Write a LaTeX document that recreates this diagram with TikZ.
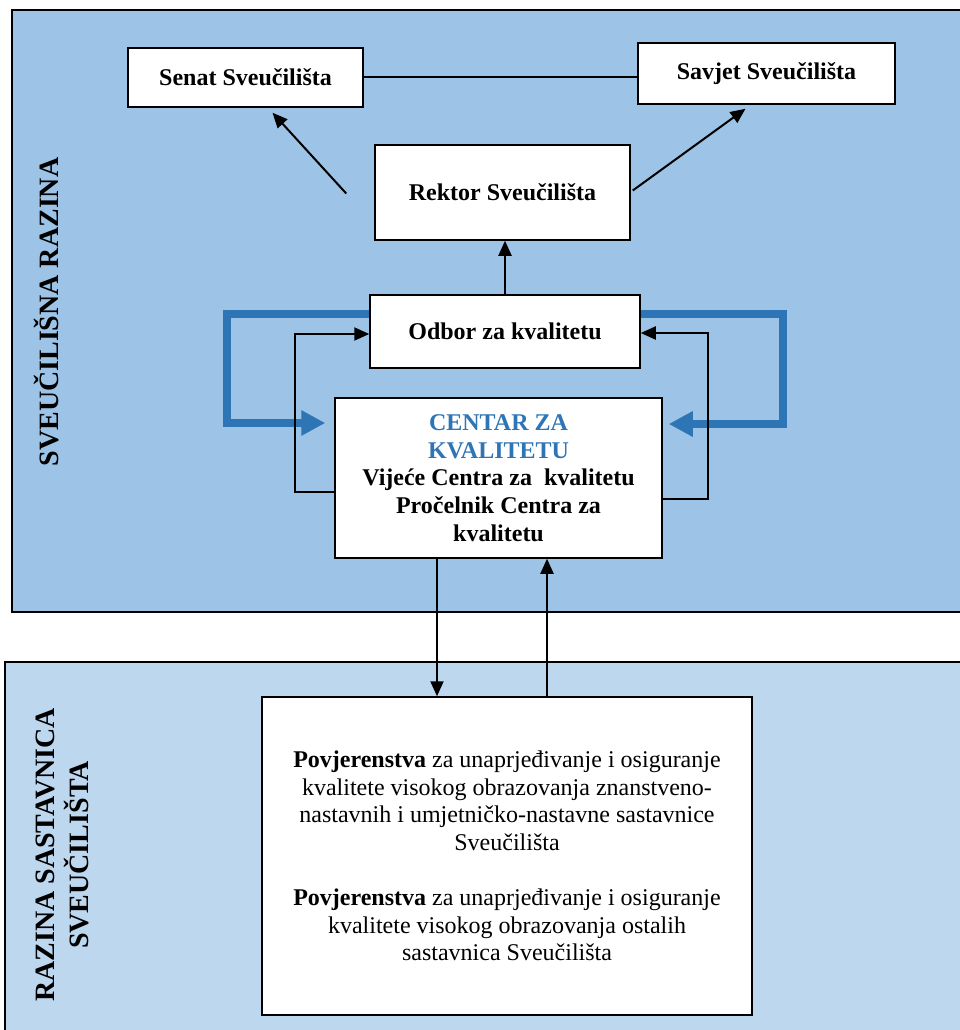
\documentclass[tikz,border=0pt]{standalone}
\usepackage{fontspec}
\setmainfont{Liberation Serif}
\usetikzlibrary{arrows.meta,calc}
\definecolor{gornja}{HTML}{9DC3E6}
\definecolor{donja}{HTML}{BDD7EE}
\definecolor{plava}{HTML}{2E75B6}
\tikzset{
  kutija/.style={draw, line width=1.5pt, fill=white, align=center, inner sep=0pt,
    font=\fontsize{24}{27.6}\selectfont\bfseries},
  strelica/.style={line width=2pt, -{Triangle[length=15pt,width=13pt]}},
  plavastr/.style={plava, line width=8pt, -{Triangle[length=24pt,width=24pt]}},
  razina/.style={rotate=90, align=center, font=\fontsize{28}{34}\selectfont\bfseries}
}
\begin{document}
\begin{tikzpicture}[x=1pt,y=-1pt]
\useasboundingbox (0,0) rectangle (960,1030);
\fill[gornja] (12,10) rectangle (960,612);
\draw[line width=1.5pt] (960,10) -- (12,10) -- (12,612) -- (960,612);
\fill[donja] (5,662) rectangle (960,1030);
\draw[line width=1.5pt] (960,662) -- (5,662) -- (5,1030);

\node[razina] (sveuc) at (47,312) {SVEUČILIŠNA RAZINA};
\node[razina] (sastav) at (62,855) {RAZINA SASTAVNICA\\SVEUČILIŠTA};

\node[kutija, minimum width=235, minimum height=59] (senat) at (245.5,77.5) {Senat Sveučilišta};
\node[kutija, minimum width=257, minimum height=61] (savjet) at (766.5,73.5) {Savjet Sveučilišta};
\node[kutija, minimum width=255, minimum height=95] (rektor) at (502.5,192.5) {Rektor Sveučilišta};
\node[kutija, minimum width=270, minimum height=73] (odbor) at (505,331.5) {Odbor za kvalitetu};
\node[kutija, minimum width=327, minimum height=160] (centar) at (498.5,478)
  {\textcolor{plava}{CENTAR ZA}\\\textcolor{plava}{KVALITETU}\\Vijeće Centra za\ \ kvalitetu\\Pročelnik Centra za\\kvalitetu};
\node[kutija, font=\fontsize{24}{27.6}\selectfont, minimum width=490, minimum height=318] (povj) at (507,856)
  {\textbf{Povjerenstva} za unaprjeđivanje i osiguranje\\kvalitete visokog obrazovanja znanstveno-\\nastavnih i umjetničko-nastavne sastavnice\\Sveučilišta\\[27.6pt]
   \textbf{Povjerenstva} za unaprjeđivanje i osiguranje\\kvalitete visokog obrazovanja ostalih\\sastavnica Sveučilišta};

\draw[line width=2pt] (senat.east) -- (senat.east -| savjet.west);
\draw[strelica] ($(rektor.west)+(-28,1)$) -- ($(senat.south)+(27,5)$);
\draw[strelica] ($(rektor.east)+(2,-2)$) -- ($(savjet.south)+(-21,4)$);
\draw[strelica] (odbor.north) -- (odbor.north |- rektor.south);

\draw[plavastr] ($(odbor.west)+(0,-17.5)$) -- ++(-142,0) |- ($(centar.west)+(-9,-55)$);
\draw[plavastr] ($(odbor.east)+(0,-18)$) -- ++(142,0) |- ($(centar.east)+(6,-54)$);
\draw[strelica] ($(centar.west)+(0,14)$) -- ++(-39,0) |- ($(odbor.west)+(0,2.5)$);
\draw[strelica] ($(centar.east)+(0,21)$) -- ++(45,0) |- ($(odbor.east)+(0,1.5)$);

\draw[strelica] ($(centar.south)+(-61.5,0)$) -- ($(centar.south |- povj.north)+(-61.5,0)$);
\draw[strelica] ($(centar.south |- povj.north)+(48.5,0)$) -- ($(centar.south)+(48.5,0)$);
\end{tikzpicture}
\end{document}
